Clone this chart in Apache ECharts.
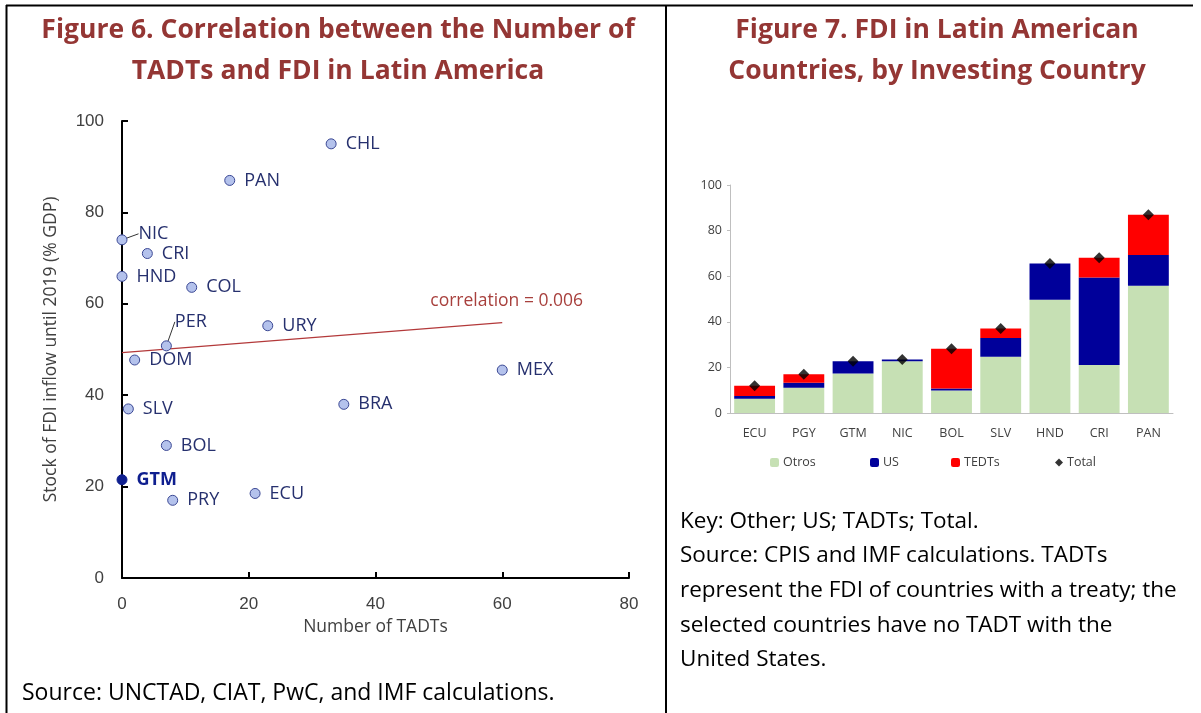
<!DOCTYPE html>
<html><head><meta charset="utf-8">
<script src="https://cdn.jsdelivr.net/npm/echarts@6/dist/echarts.min.js"></script>
<style>html,body{margin:0;padding:0;background:#fff}#c{width:1201px;height:713px}</style>
</head><body><div id="c"></div>
<script>
// ---- Figure 6 data ----
var countries = ['CHL','PAN','NIC','CRI','HND','COL','URY','PER','DOM','MEX','SLV','BRA','BOL','GTM','ECU','PRY'];
var tadts     = [33, 17, 0, 4, 0, 11, 23, 7, 2, 60, 1, 35, 7, 0, 21, 8];
var fdiStock  = [95, 87, 74, 71, 66, 63.6, 55.2, 50.8, 47.7, 45.5, 37, 38, 29, 21.5, 18.5, 17];
var trendX = [0, 60];
var trendY = [49.3, 55.9];
var xTicks6 = [0, 20, 40, 60, 80];
var yTicks6 = [0, 20, 40, 60, 80, 100];
// ---- Figure 7 data ----
var cats7  = ['ECU','PGY','GTM','NIC','BOL','SLV','HND','CRI','PAN'];
var otros  = [6.3, 11.1, 17.3, 22.7, 9.9, 24.7, 49.7, 21.1, 55.8];
var usVals = [1.2, 2.2, 5.4, 0.8, 0.9, 8.2, 15.9, 38.3, 13.5];
var tedts  = [4.5, 3.7, 0, 0, 17.4, 4.2, 0, 8.7, 17.7];
var totals = [12.0, 17.0, 22.7, 23.5, 28.2, 37.1, 65.6, 68.1, 87.0];
var legend7 = ['Otros','US','TEDTs','Total'];

var TXT = "'Open Sans', 'Noto Sans', sans-serif";
var NUM = "'Liberation Sans Narrow', 'Liberation Sans', sans-serif";
var navy = '#26306e';
var red = '#943634';

var chart = echarts.init(document.getElementById('c'));

var scatterData = countries.map(function (n, i) {
  var d = { name: n, value: [tadts[i], fdiStock[i]] };
  if (n === 'GTM') {
    d.itemStyle = { color: '#0f1f8f', borderColor: '#0f1f8f' };
    d.label = { fontWeight: 'bold', color: '#0f1f8f' };
  }
  if (n === 'NIC' || n === 'PER') {
    d.labelLine = { show: true };
  }
  return d;
});

var option = {
  animation: false,
  title: [
    { text: 'Figure 6. Correlation between the Number of\nTADTs and FDI in Latin America', left: 333, top: 5, textAlign: 'center',
      textStyle: { fontFamily: TXT, fontWeight: 'bold', fontSize: 26.5, color: red, lineHeight: 41 } },
    { text: 'Figure 7. FDI in Latin American\nCountries, by Investing Country', left: 932, top: 5, textAlign: 'center',
      textStyle: { fontFamily: TXT, fontWeight: 'bold', fontSize: 26.5, color: red, lineHeight: 41 } }
  ],
  grid: [
    { left: 122, right: 572, top: 121, bottom: 135, containLabel: false },
    { left: 730, right: 28, top: 185, bottom: 300, containLabel: false }
  ],
  xAxis: [
    { gridIndex: 0, type: 'value', min: xTicks6[0], max: xTicks6[xTicks6.length - 1], interval: 20,
      name: 'Number of TADTs', nameLocation: 'middle', nameGap: 36,
      nameTextStyle: { fontFamily: TXT, fontSize: 17.5, color: '#404040' },
      axisLine: { show: true, lineStyle: { color: '#000', width: 2 } },
      axisTick: { show: true, inside: true, length: 6, lineStyle: { color: '#000', width: 2 } },
      axisLabel: { fontFamily: NUM, fontSize: 17, color: '#404040', margin: 18 },
      splitLine: { show: false } },
    { gridIndex: 1, type: 'category', data: cats7,
      axisLine: { show: true, lineStyle: { color: '#bfbfbf', width: 1 } },
      axisTick: { show: false },
      axisLabel: { fontFamily: TXT, fontSize: 12.5, color: '#404040', margin: 14 },
      splitLine: { show: false } }
  ],
  yAxis: [
    { gridIndex: 0, type: 'value', min: yTicks6[0], max: yTicks6[yTicks6.length - 1], interval: 20,
      name: 'Stock of FDI inflow until 2019 (% GDP)', nameLocation: 'middle', nameGap: 62, nameRotate: 90,
      nameTextStyle: { fontFamily: TXT, fontSize: 17.5, color: '#404040' },
      axisLine: { show: true, lineStyle: { color: '#000', width: 2 } },
      axisTick: { show: true, inside: true, length: 6, lineStyle: { color: '#000', width: 2 } },
      axisLabel: { fontFamily: NUM, fontSize: 17, color: '#404040', margin: 18 },
      splitLine: { show: false } },
    { gridIndex: 1, type: 'value', min: 0, max: 100, interval: 20,
      axisLine: { show: true, lineStyle: { color: '#bfbfbf', width: 1 } },
      axisTick: { show: true, length: 3, lineStyle: { color: '#bfbfbf' } },
      axisLabel: { fontFamily: TXT, fontSize: 12.5, color: '#404040', margin: 8 },
      splitLine: { show: false } }
  ],
  legend: legend7.map(function (n, i) {
    var lefts = [770, 870, 951, 1055];
    return {
      data: [n], left: lefts[i], top: 456, itemWidth: (n === 'Total' ? 8 : 9), itemHeight: (n === 'Total' ? 8 : 9), itemGap: 4,
      textStyle: { fontFamily: TXT, fontSize: 12.5, color: '#404040', padding: [0, 0, 0, -1] },
      padding: 0
    };
  }),
  series: [
    { type: 'line', xAxisIndex: 0, yAxisIndex: 0, data: trendX.map(function (x, i) { return [x, trendY[i]]; }),
      symbol: 'none', lineStyle: { color: '#b3393a', width: 1.2 }, z: 1,
      endLabel: { show: true, formatter: 'correlation = 0.006', fontFamily: TXT, fontSize: 17.5, color: '#a8403d',
        offset: [-80, -22] } },
    { type: 'scatter', xAxisIndex: 0, yAxisIndex: 0, data: scatterData, symbolSize: 10, z: 3,
      itemStyle: { color: '#b4c2ec', borderColor: '#3a4793', borderWidth: 1, opacity: 1 },
      label: { show: true, position: 'right', distance: 9, formatter: '{b}', fontFamily: TXT, fontSize: 18, color: navy },
      labelLine: { show: false, lineStyle: { color: '#333', width: 1 } },
      labelLayout: function (p) {
        var n = countries[p.dataIndex];
        if (n === 'NIC') return { dx: 2, dy: -6 };
        if (n === 'PER') return { dx: -6, dy: -24 };
        return {};
      } },
    { name: 'Otros', type: 'bar', xAxisIndex: 1, yAxisIndex: 1, stack: 's', data: otros, barCategoryGap: '17%',
      itemStyle: { color: '#c6e0b4' } },
    { name: 'US', type: 'bar', xAxisIndex: 1, yAxisIndex: 1, stack: 's', data: usVals,
      itemStyle: { color: '#00009a' } },
    { name: 'TEDTs', type: 'bar', xAxisIndex: 1, yAxisIndex: 1, stack: 's', data: tedts,
      itemStyle: { color: '#ff0000' } },
    { name: 'Total', type: 'scatter', xAxisIndex: 1, yAxisIndex: 1, data: totals, symbol: 'diamond', symbolSize: 11,
      itemStyle: { color: '#000' }, z: 5 }
  ],
  graphic: [
    { type: 'line', shape: { x1: 6, y1: 5.5, x2: 1193, y2: 5.5 }, style: { stroke: '#000', lineWidth: 2 } },
    { type: 'line', shape: { x1: 6.5, y1: 5, x2: 6.5, y2: 713 }, style: { stroke: '#000', lineWidth: 2 } },
    { type: 'line', shape: { x1: 666, y1: 5, x2: 666, y2: 713 }, style: { stroke: '#000', lineWidth: 2 } },
    { type: 'text', left: 22, top: 682, style: { text: 'Source: UNCTAD, CIAT, PwC, and IMF calculations.',
      font: "23px 'Open Sans', sans-serif", fill: '#000' } },
    { type: 'text', left: 680, top: 504, style: { text: 'Key: Other; US; TADTs; Total.\nSource: CPIS and IMF calculations. TADTs\nrepresent the FDI of countries with a treaty; the\nselected countries have no TADT with the\nUnited States.',
      font: "22.5px 'Open Sans', sans-serif", fill: '#000', lineHeight: 34.6 } }
  ]
};
chart.setOption(option);
</script></body></html>
